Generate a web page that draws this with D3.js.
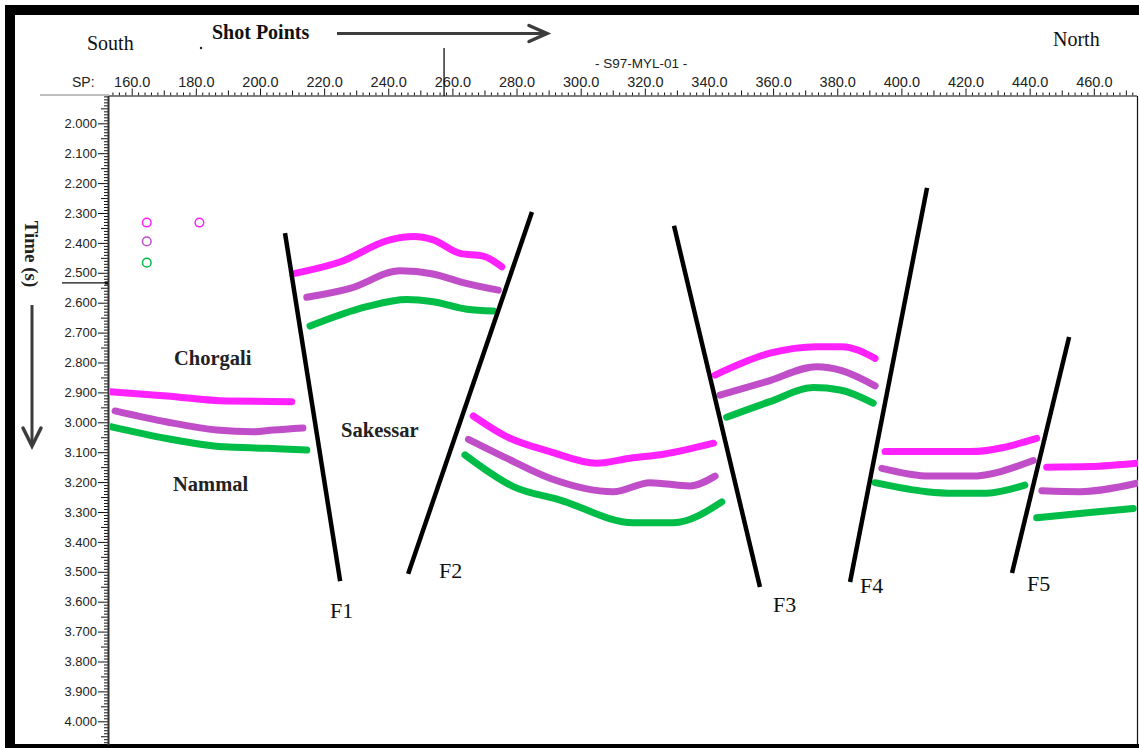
<!DOCTYPE html>
<html><head><meta charset="utf-8">
<script src="https://cdn.jsdelivr.net/npm/d3@7"></script>
<style>body{margin:0;background:#fff;} svg{display:block}</style>
</head><body>
<svg id="c" width="1139" height="748"></svg>
<script>
// ---------- data ----------
const shotPointTicks = [160,180,200,220,240,260,280,300,320,340,360,380,400,420,440,460];
const timeTicks = [2.0,2.1,2.2,2.3,2.4,2.5,2.6,2.7,2.8,2.9,3.0,3.1,3.2,3.3,3.4,3.5,3.6,3.7,3.8,3.9,4.0];

// horizons: [shot point, two-way time (s)], one segment per fault block
const horizonMagenta = [
  [[153.2,2.898],[170.9,2.912],[189.6,2.929],[209.9,2.931]],
  [[210.9,2.502],[224.9,2.464],[240.5,2.390],[247.8,2.379],[254.0,2.390],[262.4,2.435],[269.6,2.444],[275.4,2.480]],
  [[266.5,2.979],[276.9,3.048],[290.4,3.098],[305.0,3.137],[315.4,3.120],[325.8,3.107],[341.4,3.070]],
  [[341.9,2.842],[359.0,2.769],[373.6,2.747],[381.4,2.747],[391.8,2.786]],
  [[394.9,3.098],[421.4,3.098],[442.2,3.054]],
  [[445.3,3.150],[458.8,3.148],[473.4,3.137]]
];
const horizonPurple = [
  [[154.8,2.962],[171.0,2.999],[186.6,3.026],[197.8,3.032],[204.1,3.026],[213.4,3.019]],
  [[214.6,2.582],[228.1,2.552],[243.7,2.493],[254.0,2.504],[262.4,2.530],[274.3,2.558]],
  [[265.0,3.057],[276.9,3.120],[290.4,3.187],[310.2,3.232],[321.6,3.202],[334.1,3.213],[341.9,3.180]],
  [[343.4,2.909],[358.0,2.864],[373.6,2.814],[381.4,2.827],[391.8,2.878]],
  [[393.9,3.154],[408.9,3.180],[421.4,3.180],[441.1,3.128]],
  [[443.8,3.229],[455.7,3.232],[473.4,3.204]]
];
const horizonGreen = [
  [[153.7,3.015],[170.9,3.054],[188.6,3.082],[202.1,3.087],[214.6,3.093]],
  [[215.6,2.678],[233.3,2.613],[245.8,2.589],[254.0,2.597],[264.5,2.622],[272.8,2.628]],
  [[263.9,3.109],[279.0,3.215],[293.6,3.260],[316.4,3.336],[328.9,3.336],[344.0,3.266]],
  [[345.5,2.983],[359.0,2.931],[372.5,2.884],[380.9,2.892],[391.2,2.936]],
  [[391.8,3.202],[407.9,3.232],[416.2,3.237],[426.6,3.237],[438.5,3.210]],
  [[442.2,3.319],[458.8,3.302],[472.3,3.288]]
];

const faultNames  = ["F1","F2","F3","F4","F5"];
const faultTop    = [[207.8,2.367],[284.8,2.297],[329.1,2.343],[408.0,2.216],[452.3,2.715]];
const faultBottom = [[225.0,3.531],[246.2,3.507],[355.9,3.551],[384.0,3.534],[434.5,3.504]];
const faultLabelAt = [[221.8,3.655],[255.8,3.521],[360.0,3.635],[387.1,3.571],[439.2,3.564]];

const formationNames = ["Chorgali","Sakessar","Nammal"];
const formationAt = [[173.2,2.808],[225.3,3.049],[172.9,3.230]];

const markerAt = [[164.7,2.332],[181.1,2.332],[164.7,2.395],[164.7,2.466]];
const markerHorizon = ["magenta","magenta","purple","green"];

const cursorShotPoint = 257.4;
const cursorTime = 2.534;

// ---------- layout ----------
const W = 1139, H = 748;
const plotL = 109, plotR = 1137, plotT = 96, plotB = 745;
const colors = {magenta:"#ff22ff", purple:"#c04ec9", green:"#00bd48"};

const x = d3.scaleLinear().domain([152.92, 473.47]).range([plotL, plotR]);
const y = d3.scaleLinear().domain([1.9087, 4.0793]).range([plotT, plotB]);

const svg = d3.select("#c");
const sans = "'Liberation Sans', Arial, sans-serif";
const serif = "'Liberation Serif', 'Times New Roman', serif";

// frame
svg.append("rect").attr("width",W).attr("height",H).attr("fill","#fff");
svg.append("rect").attr("x",5).attr("y",5).attr("width",W-5).attr("height",H-5).attr("fill","#000");
svg.append("rect").attr("x",15).attr("y",15).attr("width",W-15).attr("height",744-15).attr("fill","#fff");

// grey guide line left of axis
svg.append("line").attr("x1",40).attr("x2",plotL).attr("y1",plotT-1).attr("y2",plotT-1)
  .attr("stroke","#aaa").attr("stroke-width",1.5);

// ---------- header texts ----------
svg.append("text").attr("x",87).attr("y",50).text("South")
  .attr("font-family",serif).attr("font-size",20).attr("fill","#111");
svg.append("text").attr("x",212).attr("y",39).text("Shot Points")
  .attr("font-family",serif).attr("font-size",20).attr("font-weight","bold").attr("fill","#111");
svg.append("text").attr("x",1053).attr("y",46).text("North")
  .attr("font-family",serif).attr("font-size",20).attr("fill","#111");
svg.append("circle").attr("cx",201).attr("cy",48).attr("r",1.2).attr("fill","#222");
svg.append("text").attr("x",595).attr("y",68).text("- S97-MYL-01 -")
  .attr("font-family",sans).attr("font-size",13.5).attr("fill","#222");
svg.append("text").attr("x",72).attr("y",87).text("SP:")
  .attr("font-family",sans).attr("font-size",14).attr("fill","#222");

// arrow (shot points)
svg.append("line").attr("x1",337).attr("x2",546).attr("y1",33.5).attr("y2",33.5)
  .attr("stroke","#3c3c3c").attr("stroke-width",3);
svg.append("path").attr("d","M529,25.5 L547,33.5 L529,41.5").attr("fill","none")
  .attr("stroke","#3c3c3c").attr("stroke-width",3.5).attr("stroke-linecap","round");

// Time (s) label + arrow
svg.append("text").attr("transform","translate(32,254) rotate(90)")
  .attr("text-anchor","middle").attr("dy","0.35em").text("Time (s)")
  .attr("font-family",serif).attr("font-size",19).attr("font-weight","bold").attr("fill","#222");
svg.append("line").attr("x1",32).attr("x2",32).attr("y1",305).attr("y2",445)
  .attr("stroke","#3c3c3c").attr("stroke-width",3);
svg.append("path").attr("d","M23,428 L32,446 L41,428").attr("fill","none")
  .attr("stroke","#3c3c3c").attr("stroke-width",3.5).attr("stroke-linecap","round");

// ---------- axes ----------
function styleAxis(g){
  g.select(".domain").remove();
  g.selectAll(".tick line").attr("stroke","#111").attr("stroke-width",1);
  g.selectAll(".tick text").attr("fill","#222");
}
const gxMinor = svg.append("g").attr("transform",`translate(0,${plotT-0.5})`)
  .call(d3.axisTop(x).tickValues(d3.range(154,474,2).filter(v=>v%10!==0)).tickSize(3).tickFormat(""));
styleAxis(gxMinor);
const gxMid = svg.append("g").attr("transform",`translate(0,${plotT-0.5})`)
  .call(d3.axisTop(x).tickValues(d3.range(170,474,20)).tickSize(5).tickFormat(""));
styleAxis(gxMid);
const gx = svg.append("g").attr("transform",`translate(0,${plotT-0.5})`)
  .call(d3.axisTop(x).tickValues(shotPointTicks).tickFormat(d3.format(".1f")).tickSize(7).tickPadding(2));
styleAxis(gx);
gx.selectAll(".tick text").attr("font-family",sans).attr("font-size",14.5);
svg.append("line").attr("x1",plotL).attr("x2",plotR).attr("y1",plotT).attr("y2",plotT)
  .attr("stroke","#555").attr("stroke-width",1.5);

const minorT = d3.range(191,408).map(v=>v/100).filter(v=>Math.round(v*100)%5!==0);
const midT = d3.range(191,408).map(v=>v/100).filter(v=>Math.round(v*100)%10===5);
const gyMinor = svg.append("g").attr("transform",`translate(${plotL},0)`)
  .call(d3.axisLeft(y).tickValues(minorT).tickSize(5).tickFormat(""));
styleAxis(gyMinor);
const gyMid = svg.append("g").attr("transform",`translate(${plotL},0)`)
  .call(d3.axisLeft(y).tickValues(midT).tickSize(8).tickFormat(""));
styleAxis(gyMid);
const gy = svg.append("g").attr("transform",`translate(${plotL},0)`)
  .call(d3.axisLeft(y).tickValues(timeTicks).tickFormat(d3.format(".3f")).tickSize(11).tickPadding(1));
styleAxis(gy);
gy.selectAll(".tick text").attr("font-family",sans).attr("font-size",13);
svg.append("line").attr("x1",plotL-0.5).attr("x2",plotL-0.5).attr("y1",plotT).attr("y2",plotB)
  .attr("stroke","#333").attr("stroke-width",2);
// right edge of section
svg.append("line").attr("x1",plotR+0.5).attr("x2",plotR+0.5).attr("y1",plotT).attr("y2",plotB)
  .attr("stroke","#111").attr("stroke-width",1.2);

// cursor markers
svg.append("line").attr("x1",x(cursorShotPoint)).attr("x2",x(cursorShotPoint)).attr("y1",48).attr("y2",plotT)
  .attr("stroke","#111").attr("stroke-width",1.3);
svg.append("line").attr("x1",62).attr("x2",plotL-2).attr("y1",y(cursorTime)).attr("y2",y(cursorTime))
  .attr("stroke","#111").attr("stroke-width",1.3);
svg.append("rect").attr("x",plotL-4).attr("y",y(cursorTime)-1.5).attr("width",3).attr("height",3).attr("fill","#111");

// ---------- section content ----------
svg.append("clipPath").attr("id","plotclip").append("rect")
  .attr("x",plotL+1).attr("y",plotT).attr("width",plotR-plotL).attr("height",plotB-plotT);
const plot = svg.append("g").attr("clip-path","url(#plotclip)");
const line = d3.line().x(d=>x(d[0])).y(d=>y(d[1])).curve(d3.curveMonotoneX);
const straight = d3.line().x(d=>x(d[0])).y(d=>y(d[1]));

function drawHorizon(data, color){
  plot.append("g").selectAll("path").data(data).join("path")
    .attr("d",line).attr("fill","none").attr("stroke",color)
    .attr("stroke-width",7).attr("stroke-linecap","round").attr("stroke-linejoin","round");
}
drawHorizon(horizonMagenta, colors.magenta);
drawHorizon(horizonPurple, colors.purple);
drawHorizon(horizonGreen, colors.green);

// faults
plot.append("g").selectAll("path").data(faultTop.map((t,i)=>[t,faultBottom[i]])).join("path")
  .attr("d",straight).attr("fill","none").attr("stroke","#000").attr("stroke-width",4.5).attr("stroke-linecap","butt");

// fault labels
svg.append("g").selectAll("text").data(faultNames).join("text")
  .attr("x",(d,i)=>x(faultLabelAt[i][0])).attr("y",(d,i)=>y(faultLabelAt[i][1]))
  .text(d=>d).attr("font-family",serif).attr("font-size",22).attr("fill","#111");

// formation labels
svg.append("g").selectAll("text").data(formationNames).join("text")
  .attr("x",(d,i)=>x(formationAt[i][0])).attr("y",(d,i)=>y(formationAt[i][1]))
  .text(d=>d).attr("font-family",serif).attr("font-size",20.5).attr("font-weight","bold").attr("fill","#222");

// small circle markers
svg.append("g").selectAll("circle").data(markerAt).join("circle")
  .attr("cx",d=>x(d[0])).attr("cy",d=>y(d[1])).attr("r",4.3)
  .attr("fill","none").attr("stroke",(d,i)=>colors[markerHorizon[i]]).attr("stroke-width",1.5);
</script>
</body></html>
